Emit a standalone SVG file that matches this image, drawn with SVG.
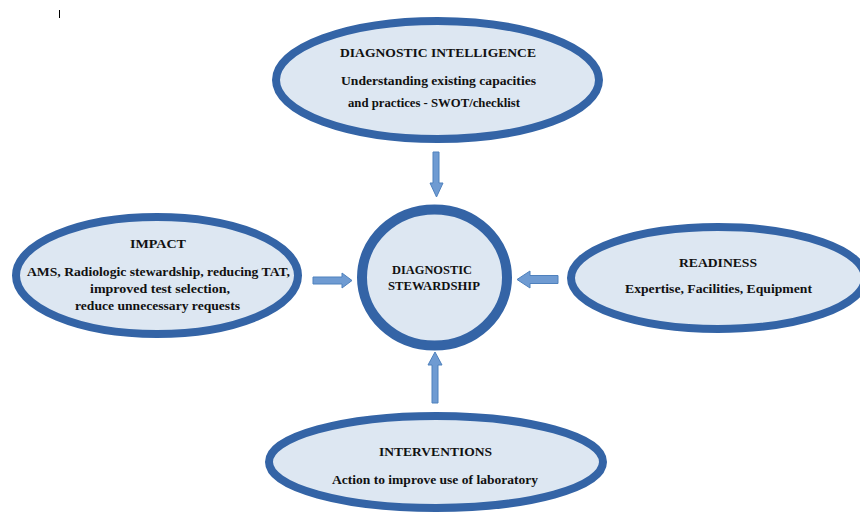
<svg xmlns="http://www.w3.org/2000/svg" width="860" height="514" viewBox="0 0 860 514">
<style>
.node{fill:#dde7f2;stroke:#3464a6;stroke-width:8}
.hub{fill:#dde7f2;stroke:#3464a6;stroke-width:10}
.arrow{fill:#6f9bd2;stroke:#4f81bd;stroke-width:1}
text{font-family:"Liberation Serif","Times New Roman",serif;font-weight:bold;fill:#111;text-anchor:middle}
.t{font-size:13.5px}
.b{font-size:12.5px}
</style>
<rect width="860" height="514" fill="#ffffff"/>
<line x1="59.5" y1="10" x2="59.5" y2="18" stroke="#000" stroke-width="1"/>
<g id="connectors">
<polygon class="arrow" points="433,152 439,152 439,183 443,183 436.5,197 430,183 433,183"/>
<polygon class="arrow" points="313,277 342,277 342,273 352,280.5 342,288 342,284 313,284"/>
<polygon class="arrow" points="558,275.5 530,275.5 530,271 517,279.5 530,288 530,283.5 558,283.5"/>
<polygon class="arrow" points="432,403 432,365 428,365 435,352 442,365 438,365 438,403"/>
</g>
<g id="diagnostic-intelligence">
<ellipse class="node" cx="437.5" cy="80" rx="161.5" ry="59"/>
<text class="t" x="438" y="57" textLength="196" lengthAdjust="spacingAndGlyphs">DIAGNOSTIC INTELLIGENCE</text>
<text class="b" x="438.5" y="85" textLength="195" lengthAdjust="spacingAndGlyphs">Understanding existing capacities</text>
<text class="b" x="434" y="107" textLength="172" lengthAdjust="spacingAndGlyphs">and practices - SWOT/checklist</text>
</g>
<g id="impact">
<ellipse class="node" cx="157" cy="275.5" rx="141" ry="58.5"/>
<text class="t" x="158" y="248" textLength="56" lengthAdjust="spacingAndGlyphs">IMPACT</text>
<text class="b" x="158.5" y="276" textLength="263" lengthAdjust="spacingAndGlyphs">AMS, Radiologic stewardship, reducing TAT,</text>
<text class="b" x="160" y="293" textLength="140" lengthAdjust="spacingAndGlyphs">improved test selection,</text>
<text class="b" x="157.5" y="310" textLength="165" lengthAdjust="spacingAndGlyphs">reduce unnecessary requests</text>
</g>
<g id="diagnostic-stewardship">
<ellipse class="hub" cx="434.5" cy="277.5" rx="72.5" ry="68"/>
<text class="t" x="432" y="274" textLength="80" lengthAdjust="spacingAndGlyphs">DIAGNOSTIC</text>
<text class="t" x="434" y="290" textLength="92" lengthAdjust="spacingAndGlyphs">STEWARDSHIP</text>
</g>
<g id="readiness">
<ellipse class="node" cx="718" cy="278" rx="147" ry="51"/>
<text class="t" x="718" y="267" textLength="78" lengthAdjust="spacingAndGlyphs">READINESS</text>
<text class="b" x="718.5" y="293" textLength="187" lengthAdjust="spacingAndGlyphs">Expertise, Facilities, Equipment</text>
</g>
<g id="interventions">
<ellipse class="node" cx="436" cy="462" rx="167" ry="46"/>
<text class="t" x="435.5" y="456" textLength="113" lengthAdjust="spacingAndGlyphs">INTERVENTIONS</text>
<text class="b" x="435" y="484" textLength="206" lengthAdjust="spacingAndGlyphs">Action to improve use of laboratory</text>
</g>
</svg>
